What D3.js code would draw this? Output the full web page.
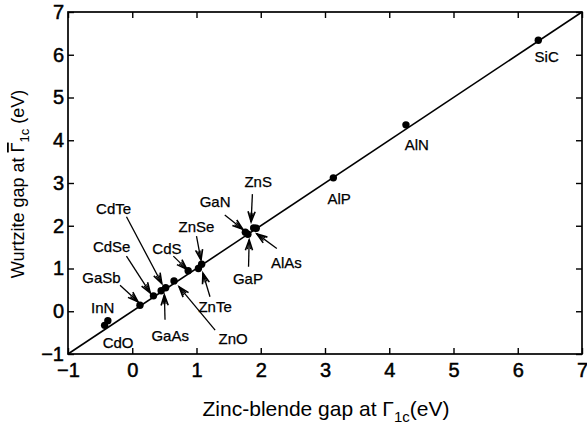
<!DOCTYPE html>
<html>
<head>
<meta charset="utf-8">
<script src="https://cdn.jsdelivr.net/npm/d3@7"></script>
<style>
  body { margin: 0; background: #fff; }
  text { font-family: "Liberation Sans", Arial, sans-serif; fill: #000; }
</style>
</head>
<body>
<div id="chart"></div>
<script>
(function() {
  "use strict";

  // compounds: zinc-blende gap vs wurtzite gap (eV)
  const names  = ["CdO", "InN", "GaSb", "CdSe", "CdTe", "GaAs", "ZnO", "CdS", "ZnTe", "ZnSe", "GaN", "GaP", "ZnS", "AlAs", "AlP", "AlN", "SiC"];
  const zbGap  = [-0.43, -0.38, 0.12, 0.33, 0.45, 0.52, 0.65, 0.87, 1.03, 1.08, 1.76, 1.80, 1.89, 1.93, 3.13, 4.26, 6.32];
  const wzGap  = [-0.33, -0.22, 0.14, 0.36, 0.48, 0.55, 0.71, 0.95, 1.00, 1.10, 1.85, 1.80, 1.95, 1.94, 3.12, 4.36, 6.34];

  // label placement in data units: text centre, arrow tail, arrow tip (null = no arrow)
  const labelX = [-0.22, -0.46, -0.48, -0.32, -0.29, 0.59, 1.57, 0.54, 1.29, 1.00, 1.29, 1.80, 1.96, 2.40, 3.22, 4.43, 6.45];
  const labelY = [-0.73, 0.09, 0.79, 1.51, 2.41, -0.56, -0.63, 1.47, 0.11, 1.99, 2.56, 0.77, 3.03, 1.14, 2.64, 3.89, 5.96];
  const arrows = [
    null, null,
    [-0.19, 0.61, 0.09, 0.22],
    [-0.09, 1.29, 0.28, 0.43],
    [-0.09, 2.21, 0.46, 0.65],
    [0.51, -0.20, 0.50, 0.38],
    [1.29, -0.44, 0.73, 0.57],
    [0.64, 1.29, 0.85, 0.98],
    [1.21, 0.34, 1.10, 0.89],
    [1.00, 1.76, 1.07, 1.20],
    [1.44, 2.25, 1.72, 1.92],
    [1.81, 1.04, 1.82, 1.67],
    [1.87, 2.74, 1.85, 2.09],
    [2.25, 1.47, 1.94, 1.81],
    null, null, null
  ];

  const ticks = [-1, 0, 1, 2, 3, 4, 5, 6, 7];

  const width = 587, height = 427;
  const margin = {left: 68, right: 5, top: 12, bottom: 73};

  const svg = d3.select("#chart").append("svg")
    .attr("width", width).attr("height", height);

  const x = d3.scaleLinear().domain([-1, 7]).range([margin.left, width - margin.right]);
  const y = d3.scaleLinear().domain([-1, 7]).range([height - margin.bottom, margin.top]);

  // axes, ticks inward on all sides
  const tl = 6;
  svg.append("g").attr("transform", `translate(0,${y(-1)})`)
    .call(d3.axisBottom(x).tickValues(ticks).tickSizeInner(-tl).tickSizeOuter(0).tickPadding(tl + 3)
      .tickFormat(d3.format("d")));
  svg.append("g").attr("transform", `translate(0,${y(7)})`)
    .call(d3.axisTop(x).tickValues(ticks).tickSizeInner(-tl).tickSizeOuter(0).tickFormat(""));
  svg.append("g").attr("transform", `translate(${x(-1)},0)`)
    .call(d3.axisLeft(y).tickValues(ticks).tickSizeInner(-tl).tickSizeOuter(0).tickPadding(4)
      .tickFormat(d3.format("d")));
  svg.append("g").attr("transform", `translate(${x(7)},0)`)
    .call(d3.axisRight(y).tickValues(ticks).tickSizeInner(-tl).tickSizeOuter(0).tickFormat(""));

  svg.selectAll(".domain").remove();
  svg.selectAll(".tick line").attr("stroke", "#000").attr("stroke-width", 1.4);
  svg.selectAll(".tick text").style("font-size", "20px")
    .style("font-family", "'Liberation Sans', Arial, sans-serif")
    .attr("stroke", "#000").attr("stroke-width", 0.5);

  svg.append("rect")
    .attr("x", x(-1)).attr("y", y(7))
    .attr("width", x(7) - x(-1)).attr("height", y(-1) - y(7))
    .attr("fill", "none").attr("stroke", "#000").attr("stroke-width", 1.7);

  // y = x line
  svg.append("line")
    .attr("x1", x(-1)).attr("y1", y(-1)).attr("x2", x(7)).attr("y2", y(7))
    .attr("stroke", "#000").attr("stroke-width", 1.6);

  // points
  svg.append("g").selectAll("circle")
    .data(names.map((n, i) => ({n: n, zb: zbGap[i], wz: wzGap[i]})))
    .enter().append("circle")
    .attr("cx", d => x(d.zb)).attr("cy", d => y(d.wz)).attr("r", 3.7)
    .attr("fill", "#000");

  // arrows
  const ag = svg.append("g").attr("stroke", "#000").attr("fill", "none").attr("stroke-width", 1.3);
  arrows.forEach(function(a) {
    if (!a) return;
    const x0 = x(a[0]), y0 = y(a[1]), x1 = x(a[2]), y1 = y(a[3]);
    const ang = Math.atan2(y1 - y0, x1 - x0);
    const hl = 11, ha = 0.33;
    ag.append("line").attr("x1", x0).attr("y1", y0).attr("x2", x1).attr("y2", y1);
    ag.append("path").attr("d",
      `M${x1 - hl * Math.cos(ang - ha)},${y1 - hl * Math.sin(ang - ha)}L${x1},${y1}` +
      `L${x1 - hl * Math.cos(ang + ha)},${y1 - hl * Math.sin(ang + ha)}`)
      .attr("stroke-width", 1.6);
    ag.append("path").attr("d",
      `M${x1 - hl * 0.85 * Math.cos(ang - ha * 0.5)},${y1 - hl * 0.85 * Math.sin(ang - ha * 0.5)}L${x1},${y1}` +
      `L${x1 - hl * 0.85 * Math.cos(ang + ha * 0.5)},${y1 - hl * 0.85 * Math.sin(ang + ha * 0.5)}`)
      .attr("stroke-width", 1.1);
  });

  // labels
  svg.append("g").selectAll("text")
    .data(names).enter().append("text")
    .attr("x", (d, i) => x(labelX[i])).attr("y", (d, i) => y(labelY[i]))
    .attr("text-anchor", "middle").attr("dominant-baseline", "central")
    .style("font-size", "15px")
    .attr("stroke", "#000").attr("stroke-width", 0.25)
    .text(d => d);

  // axis titles
  const xt = svg.append("text").attr("x", 326).attr("y", 416)
    .attr("text-anchor", "middle").style("font-size", "21px");
  xt.append("tspan").text("Zinc-blende gap at \u0393");
  xt.append("tspan").attr("dy", 6).style("font-size", "15px").text("1c");
  xt.append("tspan").attr("dy", -6).text("(eV)");

  const yt = svg.append("text")
    .attr("transform", `translate(24,184) rotate(-90)`)
    .attr("text-anchor", "middle").style("font-size", "18px");
  yt.append("tspan").text("Wurtzite gap at ");
  yt.append("tspan").style("text-decoration", "overline").text("\u0393");
  yt.append("tspan").attr("dy", 5).style("font-size", "13px").text("1c");
  yt.append("tspan").attr("dy", -5).text(" (eV)");
})();
</script>
</body>
</html>
